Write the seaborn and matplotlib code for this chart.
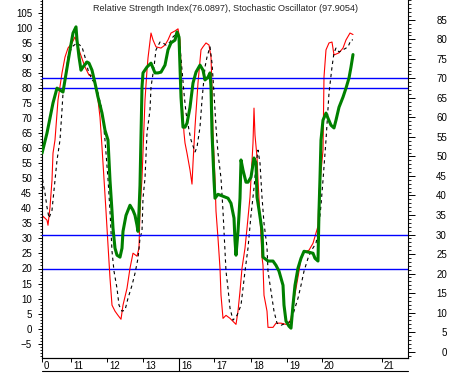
import matplotlib
matplotlib.use("Agg")
import matplotlib.pyplot as plt
from matplotlib.ticker import MultipleLocator
from matplotlib.transforms import ScaledTranslation
import pandas as pd
import seaborn as sns

# bar index (one unit per pixel column of the original chart)
rsi_x = [0, 5, 11, 15, 18, 21, 23, 28, 31, 34, 35, 37, 39, 41, 45, 47, 50, 53, 56, 60,
         63, 66, 68, 70, 71, 73, 75, 78, 80, 81, 84, 88, 91, 93, 95, 96, 97, 98, 100, 101,
         105, 107, 109, 113, 116, 119, 123, 126, 129, 133, 135, 137, 138, 139, 141, 143, 145, 148, 151, 154,
         158, 161, 163, 166, 168, 169, 170, 172, 173, 176, 181, 186, 189, 192, 193, 194, 196, 198, 199, 201,
         204, 206, 209, 212, 214, 215, 217, 220, 221, 226, 231, 234, 237, 241, 242, 244, 247, 249, 251, 253,
         256, 259, 262, 266, 271, 273, 276, 277, 278, 279, 281, 284, 286, 289, 292, 294, 297, 301, 304, 307,
         309, 311]
rsi = [50.8, 56.0, 63.7, 67.5, 67.0, 66.5, 69.6, 77.3, 81.6, 83.2, 79.8, 75.5, 72.1, 72.9, 74.2, 73.9, 72.1, 68.8, 65.2, 61.1,
       56.7, 54.2, 43.9, 36.0, 31.6, 26.5, 24.7, 24.2, 26.5, 30.8, 34.9, 37.5, 36.2, 34.9, 32.4, 30.8, 36.0, 42.6, 67.8, 71.4,
       72.9, 73.4, 73.9, 71.4, 71.4, 71.6, 73.4, 77.3, 79.1, 79.8, 81.9, 80.6, 72.9, 65.2, 57.5, 57.5, 58.5, 62.6, 68.8, 71.6,
       73.4, 72.1, 69.6, 70.3, 71.4, 67.8, 56.0, 43.9, 39.3, 40.3, 39.8, 39.3, 38.0, 34.2, 28.5, 24.7, 30.8, 39.3, 49.1, 46.5,
       43.4, 43.4, 44.7, 49.6, 48.3, 39.6, 36.3, 31.1, 24.2, 23.2, 23.2, 22.1, 20.6, 17.0, 11.9, 7.8, 6.5, 6.0, 11.9, 17.0,
       21.4, 23.9, 25.7, 25.5, 25.2, 23.9, 23.2, 36.0, 44.5, 54.2, 59.3, 61.1, 59.8, 58.0, 57.3, 59.3, 62.6, 65.2, 67.5, 70.1,
       72.9, 76.1]

stoch_k_x = [0, 1, 5, 6, 8, 10, 11, 13, 16, 20, 23, 26, 30, 33, 35, 38, 43, 47, 51, 54,
             56, 58, 60, 62, 64, 66, 68, 70, 73, 76, 79, 81, 85, 88, 91, 95, 97, 98, 100, 103,
             105, 106, 109, 111, 114, 119, 123, 126, 129, 133, 136, 138, 139, 140, 142, 143, 145, 148, 150, 151,
             153, 156, 159, 161, 164, 167, 169, 170, 171, 173, 174, 176, 178, 179, 181, 184, 188, 191, 194, 196,
             198, 200, 203, 205, 208, 211, 212, 213, 215, 216, 218, 220, 221, 222, 225, 226, 231, 234, 239, 244,
             247, 249, 251, 254, 257, 259, 262, 267, 271, 274, 276, 277, 281, 282, 284, 287, 290, 292, 297, 301,
             304, 308, 311]
stoch_k = [36.1, 37.4, 36.1, 34.4, 40.4, 49.4, 58.4, 62.8, 76.1, 85.1, 90.4, 93.4, 95.1, 97.1, 95.1, 91.8, 87.1, 84.4, 84.1, 80.1,
           76.1, 70.4, 60.4, 49.8, 39.1, 27.8, 16.8, 7.8, 5.8, 4.4, 3.1, 7.8, 13.4, 20.1, 25.1, 24.1, 26.8, 39.1, 50.1, 76.1,
           86.1, 90.1, 98.4, 96.1, 93.8, 93.4, 94.4, 96.1, 98.4, 99.1, 99.8, 96.1, 87.1, 76.1, 65.1, 61.8, 58.4, 52.8, 48.1, 55.1,
           67.1, 81.8, 92.8, 93.8, 95.1, 94.4, 90.4, 80.4, 65.1, 49.8, 39.1, 30.1, 20.1, 11.1, 3.4, 4.4, 3.4, 2.4, 1.4, 5.8,
           12.4, 20.1, 26.8, 33.4, 43.8, 61.8, 73.4, 64.4, 57.1, 49.4, 37.1, 23.8, 21.1, 11.1, 5.8, 0.4, 0.4, 1.8, 1.8, 1.4,
           1.8, 3.4, 7.8, 13.4, 19.1, 23.4, 25.4, 26.1, 28.4, 31.8, 34.1, 45.0, 59.4, 83.8, 92.8, 95.1, 95.4, 91.1, 91.8, 93.4,
           96.1, 98.4, 97.9]

stoch_d_x = [0, 1, 3, 5, 7, 10, 13, 15, 18, 20, 21, 24, 26, 30, 35, 40, 43, 46, 50, 53,
             56, 60, 63, 66, 68, 70, 72, 75, 77, 80, 83, 86, 90, 93, 96, 98, 100, 101, 103, 105,
             108, 109, 112, 114, 118, 121, 124, 128, 131, 135, 138, 140, 142, 144, 147, 149, 153, 155, 158, 160,
             163, 165, 168, 170, 172, 174, 176, 179, 181, 183, 184, 186, 188, 191, 195, 199, 201, 203, 206, 209,
             212, 214, 216, 218, 220, 222, 225, 226, 229, 232, 235, 239, 244, 249, 252, 256, 259, 262, 266, 269,
             274, 277, 279, 281, 284, 287, 290, 292, 294, 297, 301, 306, 309, 311]
stoch_d = [51.8, 48.4, 45.1, 40.4, 36.8, 39.4, 49.4, 56.0, 62.8, 72.8, 78.4, 85.1, 90.4, 93.8, 95.1, 93.8, 90.4, 86.1, 82.8, 81.8,
           78.4, 72.8, 62.8, 49.8, 39.1, 25.8, 19.1, 13.4, 7.8, 5.8, 6.1, 10.1, 14.4, 18.4, 23.4, 30.1, 32.4, 43.4, 50.1, 65.1,
           72.8, 80.4, 87.1, 92.8, 95.4, 95.1, 94.4, 95.4, 97.1, 98.4, 93.8, 86.1, 78.4, 71.8, 66.1, 62.8, 58.8, 60.4, 67.1, 76.1,
           87.1, 90.4, 93.8, 88.4, 78.4, 67.1, 58.4, 50.1, 39.1, 25.8, 19.1, 13.4, 6.8, 2.8, 4.4, 7.8, 13.4, 19.1, 26.8, 37.8,
           46.8, 54.4, 59.4, 55.1, 43.8, 35.1, 27.1, 19.1, 12.4, 5.8, 1.8, 1.1, 1.8, 2.4, 5.8, 10.1, 14.4, 19.1, 23.4, 25.8,
           28.4, 34.4, 41.1, 49.4, 62.8, 78.4, 87.1, 91.8, 93.4, 92.1, 92.8, 93.8, 96.1, 96.1]

tick_pos = [0, 29, 65, 101, 137, 172, 209, 245, 280, 340]
tick_labels = ["0", "11", "12", "13", "16", "17", "18", "19", "20", "21"]
stoch_levels = [80, 20]
rsi_levels = [70, 30]
title = "Relative Strength Index(76.0897), Stochastic Oscillator (97.9054)"

sns.set_style("ticks")
plt.rcParams["font.family"] = ["Liberation Sans", "DejaVu Sans"]

fig = plt.figure(figsize=(4.5, 3.83), dpi=100)
ax = fig.add_axes([42 / 450, 25 / 383, 366 / 450, 358 / 383])
ax2 = ax.twinx()

# stochastic on the left scale
for lv in stoch_levels:
    ax.axhline(lv, color="#0000ff", lw=1.0, zorder=1)
sns.lineplot(x=stoch_k_x, y=stoch_k, ax=ax, color="#ff0000", lw=0.8, estimator=None, sort=False)
sns.lineplot(x=stoch_d_x, y=stoch_d, ax=ax, color="black", lw=0.8, estimator=None, sort=False)
ax.lines[-1].set_linestyle((0, (3, 3)))

# RSI on the right scale
for lv in rsi_levels:
    ax2.axhline(lv, color="#0000ff", lw=1.0, zorder=1)
sns.lineplot(x=rsi_x, y=rsi, ax=ax2, color="#008000", lw=2.2, estimator=None, sort=False)

ax.set_xlim(0, 366)
ax.set_ylim(-9.8, 109.4)
ax2.set_ylim(-1.64, 90.08)

ax.set_yticks(range(-5, 110, 5))
ax.yaxis.set_minor_locator(MultipleLocator(1))
ax2.set_yticks(range(0, 90, 5))
ax2.yaxis.set_minor_locator(MultipleLocator(1))

ax.set_xticks(tick_pos)
ax.set_xticklabels(tick_labels)
for a in (ax, ax2):
    a.set_xlabel("")
    a.set_ylabel("")
    a.spines["top"].set_visible(False)
    for s in a.spines.values():
        s.set_linewidth(0.8)
        s.set_color("black")
ax.spines["right"].set_visible(False)
ax2.spines["left"].set_visible(False)

ax.tick_params(axis="y", which="major", length=2.9, width=0.7, pad=4.3, labelsize=7, colors="black")
ax.tick_params(axis="y", which="minor", length=1.6, width=0.6, colors="black")
ax2.tick_params(axis="y", which="major", length=5, width=0.7, pad=23, labelsize=7, colors="black")
ax2.tick_params(axis="y", which="minor", length=2.2, width=0.6, colors="black")
for lbl in ax2.get_yticklabels():
    lbl.set_horizontalalignment("right")
ax.tick_params(axis="x", length=2.9, width=0.7, pad=-1, labelsize=7, colors="black")
for lbl in ax.get_xticklabels():
    lbl.set_horizontalalignment("left")
    lbl.set_transform(lbl.get_transform() + ScaledTranslation(2 / 100, 0, fig.dpi_scale_trans))

# date strip under the axis
ax.plot([0, 1], [-13 / 358, -13 / 358], transform=ax.transAxes, color="black", lw=0.8, clip_on=False)
ax.plot([137, 137], [0, -13 / 358], transform=ax.get_xaxis_transform(), color="black", lw=0.8, clip_on=False)

ax.text(0.5, 1 - 8.5 / 358, title, transform=ax.transAxes, ha="center", va="center", fontsize=6.6)

fig.savefig("out.png", dpi=100)
